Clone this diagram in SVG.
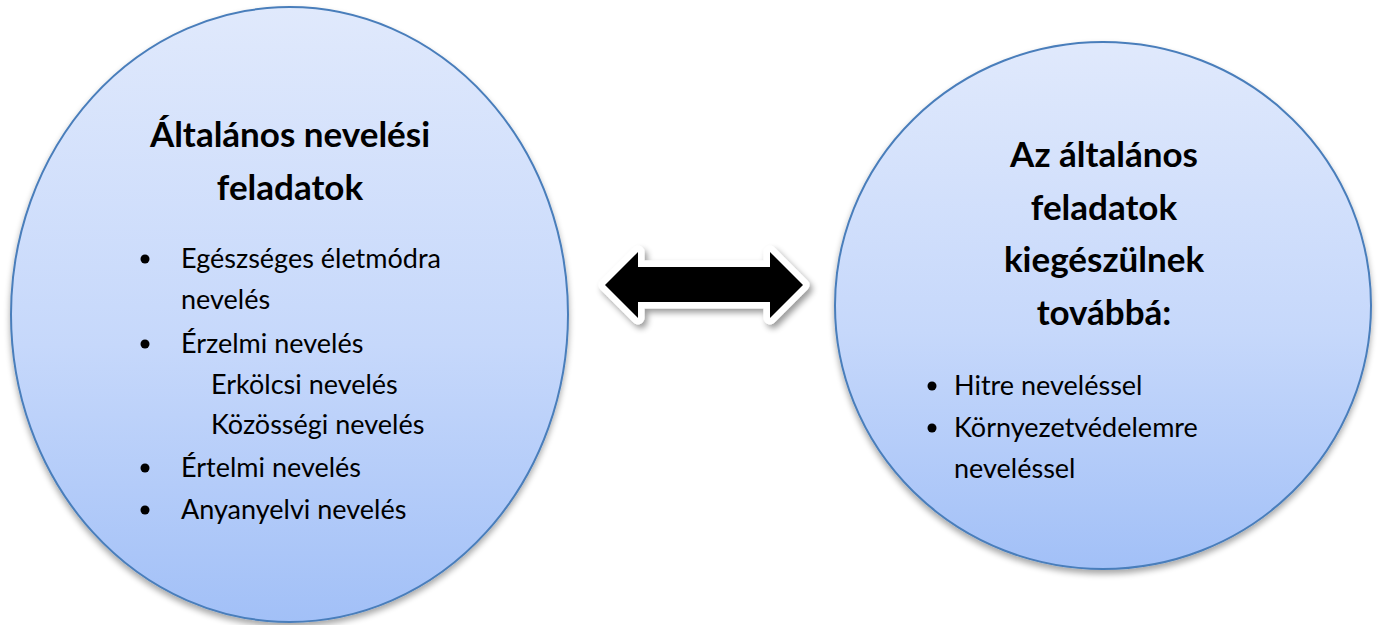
<svg xmlns="http://www.w3.org/2000/svg" width="1381" height="625" viewBox="0 0 1381 625">
  <style>
    .bubble { stroke: #4a7ebb; stroke-width: 2; filter: url(#shadow); }
    .title { font-family: Lato, "Liberation Sans", sans-serif; font-weight: bold; font-size: 35px; fill: #000; text-anchor: middle; }
    .item { font-family: Lato, "Liberation Sans", sans-serif; font-size: 27px; fill: #000; }
    .dot { fill: #000; }
  </style>
  <defs>
    <linearGradient id="leftGrad" gradientUnits="userSpaceOnUse" x1="0" y1="7" x2="0" y2="622">
      <stop offset="0" stop-color="#e0e9fc"/>
      <stop offset="0.55" stop-color="#c6d8fb"/>
      <stop offset="1" stop-color="#a2c0f7"/>
    </linearGradient>
    <linearGradient id="rightGrad" gradientUnits="userSpaceOnUse" x1="0" y1="42" x2="0" y2="569">
      <stop offset="0" stop-color="#e0e9fc"/>
      <stop offset="0.55" stop-color="#c6d8fb"/>
      <stop offset="1" stop-color="#a2c0f7"/>
    </linearGradient>
    <filter id="shadow" x="-10%" y="-10%" width="120%" height="125%">
      <feGaussianBlur in="SourceAlpha" stdDeviation="3"/>
      <feOffset dx="0" dy="4" result="b"/>
      <feComponentTransfer><feFuncA type="linear" slope="0.35"/></feComponentTransfer>
      <feMerge><feMergeNode/><feMergeNode in="SourceGraphic"/></feMerge>
    </filter>
    <filter id="arrowShadow" x="-20%" y="-40%" width="140%" height="180%">
      <feGaussianBlur in="SourceAlpha" stdDeviation="3"/>
      <feOffset dx="3" dy="4" result="b"/>
      <feComponentTransfer><feFuncA type="linear" slope="0.4"/></feComponentTransfer>
      <feMerge><feMergeNode/><feMergeNode in="SourceGraphic"/></feMerge>
    </filter>
  </defs>

  <g id="node-left">
    <ellipse class="bubble" cx="289.5" cy="314.5" rx="278.5" ry="307.5" fill="url(#leftGrad)"/>
    <text class="title" x="290" y="147">Általános nevelési</text>
    <text class="title" x="290" y="200">feladatok</text>
    <circle class="dot" cx="145" cy="259" r="4.5"/>
    <text class="item" x="181" y="268">Egészséges életmódra</text>
    <text class="item" x="181" y="309">nevelés</text>
    <circle class="dot" cx="145" cy="344" r="4.5"/>
    <text class="item" x="181" y="353">Érzelmi nevelés</text>
    <text class="item" x="211" y="394">Erkölcsi nevelés</text>
    <text class="item" x="211" y="434">Közösségi nevelés</text>
    <circle class="dot" cx="145" cy="468" r="4.5"/>
    <text class="item" x="181" y="477">Értelmi nevelés</text>
    <circle class="dot" cx="145" cy="510" r="4.5"/>
    <text class="item" x="181" y="519">Anyanyelvi nevelés</text>
  </g>

  <g id="node-right">
    <ellipse class="bubble" cx="1103" cy="305.5" rx="268" ry="263.5" fill="url(#rightGrad)"/>
    <text class="title" x="1104" y="167">Az általános</text>
    <text class="title" x="1104" y="220">feladatok</text>
    <text class="title" x="1104" y="272">kiegészülnek</text>
    <text class="title" x="1104" y="325">továbbá:</text>
    <circle class="dot" cx="932" cy="386" r="4.5"/>
    <text class="item" x="954" y="395">Hitre neveléssel</text>
    <circle class="dot" cx="932" cy="428" r="4.5"/>
    <text class="item" x="954" y="437">Környezetvédelemre</text>
    <text class="item" x="954" y="478">neveléssel</text>
  </g>

  <g id="connectors">
    <polygon points="605,285 638,252 638,267 770,267 770,252 803,285 770,318 770,302 638,302 638,318"
      fill="#000" stroke="#fff" stroke-width="13" stroke-linejoin="round" paint-order="stroke" filter="url(#arrowShadow)"/>
  </g>
</svg>
